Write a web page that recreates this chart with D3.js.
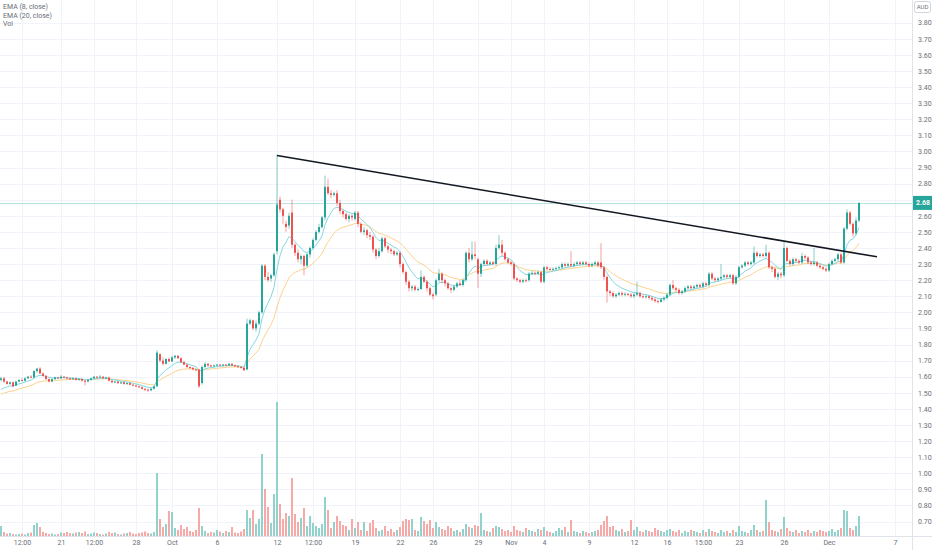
<!DOCTYPE html>
<html>
<head>
<meta charset="utf-8">
<script src="https://cdn.jsdelivr.net/npm/d3@7"></script>
<style>
	body { margin: 0; background: #fff; }
	svg { display: block; font-family: Roboto, "Noto Sans", sans-serif; }
</style>
</head>
<body>
<svg id="chart" width="932" height="550"></svg>
<script>
// candles, one per bar, left to right
var opens = [
	1.58,1.59,1.57,1.555,1.565,1.545,1.57,1.58,1.575,1.59,
	1.60,1.595,1.635,1.65,1.62,1.605,1.585,1.57,1.585,1.595,
	1.59,1.60,1.595,1.59,1.585,1.59,1.58,1.585,1.575,1.57,
	1.58,1.59,1.60,1.595,1.60,1.59,1.595,1.575,1.565,1.57,
	1.56,1.565,1.555,1.56,1.55,1.545,1.54,1.535,1.525,1.52,
	1.515,1.525,1.54,1.74,1.70,1.68,1.71,1.695,1.72,1.73,
	1.715,1.69,1.675,1.66,1.655,1.645,1.645,1.56,1.66,1.68,
	1.67,1.665,1.67,1.675,1.67,1.675,1.67,1.68,1.67,1.665,
	1.66,1.655,1.645,1.93,1.95,1.90,1.93,2.00,2.29,2.22,
	2.21,2.23,2.38,2.70,2.64,2.55,2.54,2.62,2.42,2.37,
	2.33,2.35,2.29,2.36,2.40,2.45,2.50,2.53,2.59,2.78,
	2.74,2.73,2.74,2.68,2.63,2.61,2.58,2.60,2.58,2.62,
	2.55,2.50,2.51,2.48,2.47,2.39,2.35,2.38,2.46,2.41,
	2.39,2.38,2.36,2.37,2.30,2.25,2.19,2.15,2.16,2.14,
	2.145,2.22,2.19,2.15,2.11,2.11,2.20,2.24,2.20,2.18,
	2.15,2.14,2.16,2.18,2.17,2.20,2.37,2.33,2.36,2.33,
	2.24,2.30,2.32,2.30,2.31,2.30,2.40,2.42,2.37,2.33,
	2.31,2.30,2.21,2.20,2.19,2.20,2.20,2.24,2.245,2.24,
	2.25,2.19,2.28,2.27,2.265,2.27,2.275,2.28,2.30,2.29,
	2.30,2.29,2.30,2.31,2.30,2.31,2.30,2.29,2.30,2.31,
	2.31,2.28,2.22,2.13,2.12,2.10,2.11,2.12,2.11,2.115,
	2.11,2.10,2.11,2.12,2.10,2.095,2.10,2.09,2.08,2.07,
	2.065,2.08,2.09,2.11,2.17,2.15,2.14,2.12,2.13,2.15,
	2.16,2.15,2.16,2.17,2.16,2.18,2.17,2.24,2.21,2.20,
	2.21,2.22,2.23,2.22,2.23,2.18,2.22,2.28,2.29,2.31,
	2.30,2.31,2.37,2.35,2.36,2.35,2.37,2.28,2.27,2.22,
	2.24,2.23,2.40,2.32,2.30,2.33,2.32,2.31,2.35,2.34,
	2.31,2.30,2.31,2.29,2.28,2.27,2.26,2.30,2.32,2.33,
	2.36,2.31,2.52,2.62,2.55,2.49,2.57
];
var highs = [
	1.60,1.60,1.575,1.57,1.57,1.575,1.585,1.59,1.595,1.605,
	1.61,1.64,1.655,1.66,1.625,1.61,1.59,1.59,1.60,1.60,
	1.61,1.605,1.60,1.595,1.595,1.595,1.59,1.59,1.58,1.585,
	1.595,1.605,1.605,1.61,1.605,1.60,1.60,1.58,1.575,1.575,
	1.57,1.57,1.565,1.565,1.555,1.55,1.545,1.54,1.53,1.525,
	1.53,1.545,1.765,1.745,1.72,1.715,1.72,1.73,1.735,1.735,
	1.72,1.70,1.68,1.665,1.66,1.65,1.65,1.67,1.69,1.685,
	1.675,1.675,1.68,1.68,1.68,1.68,1.685,1.685,1.675,1.67,
	1.665,1.66,1.96,1.96,1.955,1.95,2.01,2.30,2.30,2.25,
	2.24,2.37,2.98,2.72,2.65,2.57,2.62,2.70,2.43,2.39,
	2.36,2.36,2.37,2.41,2.46,2.51,2.55,2.60,2.85,2.83,
	2.76,2.75,2.76,2.70,2.64,2.62,2.61,2.61,2.63,2.63,
	2.56,2.53,2.52,2.50,2.48,2.40,2.40,2.47,2.47,2.42,
	2.40,2.39,2.38,2.38,2.31,2.26,2.20,2.17,2.17,2.155,
	2.26,2.23,2.20,2.16,2.12,2.21,2.27,2.25,2.21,2.19,
	2.16,2.17,2.19,2.20,2.21,2.38,2.40,2.44,2.44,2.34,
	2.31,2.33,2.33,2.32,2.32,2.42,2.48,2.45,2.38,2.34,
	2.32,2.31,2.22,2.21,2.21,2.21,2.25,2.26,2.255,2.26,
	2.26,2.29,2.29,2.28,2.28,2.285,2.29,2.31,2.31,2.31,
	2.38,2.31,2.32,2.32,2.32,2.32,2.31,2.31,2.32,2.32,
	2.43,2.29,2.23,2.14,2.13,2.12,2.13,2.13,2.125,2.12,
	2.12,2.12,2.19,2.13,2.11,2.11,2.105,2.10,2.09,2.08,
	2.09,2.10,2.12,2.18,2.20,2.16,2.15,2.14,2.16,2.17,
	2.17,2.17,2.18,2.18,2.19,2.19,2.25,2.25,2.22,2.22,
	2.30,2.24,2.24,2.24,2.24,2.23,2.29,2.30,2.32,2.32,
	2.32,2.41,2.38,2.37,2.37,2.42,2.38,2.29,2.28,2.25,
	2.25,2.44,2.41,2.33,2.34,2.34,2.33,2.37,2.36,2.35,
	2.32,2.40,2.32,2.30,2.29,2.28,2.31,2.33,2.34,2.37,
	2.37,2.53,2.64,2.63,2.56,2.59,2.685
];
var lows = [
	1.57,1.56,1.55,1.55,1.535,1.54,1.565,1.57,1.57,1.585,
	1.59,1.59,1.625,1.615,1.60,1.58,1.565,1.565,1.58,1.585,
	1.585,1.59,1.585,1.58,1.58,1.575,1.575,1.57,1.545,1.565,
	1.575,1.585,1.59,1.59,1.585,1.585,1.57,1.56,1.56,1.555,
	1.555,1.55,1.55,1.545,1.54,1.535,1.53,1.52,1.51,1.505,
	1.51,1.52,1.535,1.69,1.67,1.675,1.69,1.69,1.71,1.71,
	1.685,1.67,1.655,1.645,1.64,1.635,1.53,1.55,1.655,1.66,
	1.66,1.66,1.665,1.665,1.665,1.665,1.665,1.665,1.66,1.655,
	1.65,1.635,1.64,1.92,1.89,1.88,1.92,1.99,2.20,2.19,
	2.19,2.22,2.36,2.62,2.55,2.50,2.52,2.40,2.35,2.31,
	2.30,2.23,2.28,2.34,2.39,2.44,2.49,2.52,2.57,2.73,
	2.71,2.72,2.66,2.61,2.59,2.57,2.56,2.57,2.57,2.53,
	2.49,2.48,2.46,2.45,2.37,2.33,2.34,2.37,2.40,2.37,
	2.36,2.35,2.35,2.28,2.24,2.17,2.13,2.13,2.13,2.13,
	2.14,2.18,2.13,2.10,2.08,2.10,2.19,2.18,2.16,2.14,
	2.12,2.13,2.15,2.16,2.16,2.19,2.31,2.32,2.33,2.15,
	2.22,2.29,2.29,2.29,2.29,2.29,2.39,2.35,2.32,2.30,
	2.29,2.20,2.19,2.18,2.18,2.185,2.19,2.23,2.23,2.23,
	2.18,2.18,2.26,2.26,2.26,2.26,2.27,2.27,2.28,2.28,
	2.28,2.28,2.29,2.29,2.29,2.29,2.28,2.28,2.29,2.28,
	2.27,2.20,2.06,2.10,2.09,2.09,2.10,2.10,2.10,2.10,
	2.09,2.09,2.10,2.09,2.085,2.085,2.08,2.07,2.06,2.055,
	2.06,2.07,2.08,2.10,2.14,2.13,2.11,2.11,2.12,2.14,
	2.14,2.145,2.15,2.15,2.15,2.16,2.16,2.20,2.19,2.19,
	2.20,2.21,2.21,2.21,2.17,2.17,2.21,2.27,2.28,2.29,
	2.29,2.30,2.34,2.34,2.34,2.34,2.27,2.25,2.21,2.20,
	2.21,2.22,2.31,2.29,2.29,2.31,2.30,2.30,2.33,2.30,
	2.29,2.29,2.28,2.27,2.26,2.25,2.25,2.29,2.31,2.32,
	2.30,2.30,2.51,2.54,2.47,2.48,2.56
];
var closes = [
	1.59,1.57,1.555,1.565,1.54,1.57,1.58,1.575,1.59,1.60,
	1.595,1.635,1.65,1.62,1.605,1.585,1.57,1.585,1.595,1.59,
	1.60,1.595,1.59,1.585,1.59,1.58,1.585,1.575,1.57,1.58,
	1.59,1.60,1.595,1.60,1.59,1.595,1.575,1.565,1.57,1.56,
	1.565,1.555,1.56,1.55,1.545,1.54,1.535,1.525,1.52,1.515,
	1.525,1.54,1.75,1.70,1.68,1.71,1.695,1.72,1.73,1.715,
	1.69,1.675,1.66,1.655,1.645,1.64,1.54,1.66,1.68,1.67,
	1.665,1.67,1.675,1.67,1.675,1.67,1.68,1.67,1.665,1.66,
	1.655,1.64,1.93,1.95,1.90,1.93,2.00,2.29,2.22,2.20,
	2.23,2.36,2.67,2.64,2.60,2.53,2.60,2.42,2.37,2.33,
	2.35,2.29,2.36,2.40,2.45,2.50,2.53,2.59,2.78,2.74,
	2.73,2.74,2.68,2.63,2.61,2.58,2.60,2.59,2.62,2.55,
	2.50,2.51,2.48,2.47,2.39,2.35,2.38,2.46,2.41,2.39,
	2.38,2.36,2.37,2.30,2.25,2.19,2.15,2.16,2.14,2.145,
	2.22,2.19,2.15,2.11,2.10,2.20,2.24,2.20,2.18,2.15,
	2.14,2.16,2.18,2.17,2.20,2.37,2.33,2.36,2.35,2.24,
	2.30,2.32,2.30,2.31,2.30,2.40,2.42,2.37,2.33,2.31,
	2.30,2.21,2.20,2.19,2.20,2.195,2.24,2.245,2.24,2.25,
	2.19,2.28,2.27,2.265,2.27,2.275,2.28,2.30,2.29,2.30,
	2.29,2.30,2.31,2.30,2.31,2.30,2.29,2.30,2.31,2.29,
	2.28,2.22,2.13,2.12,2.10,2.11,2.12,2.11,2.115,2.11,
	2.10,2.11,2.12,2.10,2.095,2.10,2.09,2.08,2.07,2.065,
	2.08,2.09,2.11,2.17,2.15,2.14,2.12,2.13,2.15,2.16,
	2.15,2.16,2.17,2.16,2.18,2.17,2.24,2.21,2.20,2.21,
	2.22,2.23,2.22,2.23,2.18,2.22,2.28,2.29,2.31,2.30,
	2.31,2.37,2.35,2.36,2.35,2.37,2.28,2.27,2.22,2.24,
	2.23,2.40,2.32,2.30,2.33,2.32,2.31,2.35,2.34,2.31,
	2.30,2.31,2.29,2.28,2.27,2.26,2.30,2.32,2.33,2.36,
	2.31,2.52,2.62,2.55,2.49,2.57,2.68
];
// volume, thousands of shares
var volumes = [
	100,40,25,30,20,15,20,25,15,30,
	35,110,130,90,40,30,20,25,15,20,
	35,30,40,30,25,35,40,30,45,20,
	25,35,30,20,15,25,40,30,35,20,
	15,25,30,40,25,20,30,35,45,30,
	25,40,630,170,90,120,250,240,80,60,
	110,70,90,50,40,60,280,100,50,30,
	40,35,60,45,30,50,40,90,35,30,
	45,70,260,180,260,120,170,820,470,290,
	130,420,1340,320,170,230,200,580,220,140,
	180,280,100,200,130,100,80,120,390,260,
	80,140,200,150,110,100,60,170,80,140,
	60,140,50,130,160,80,50,60,100,50,
	70,40,60,90,150,170,160,170,60,50,
	190,150,120,160,80,140,90,70,60,100,
	80,50,60,40,70,120,90,80,110,100,
	230,60,50,40,80,100,90,70,50,60,
	40,100,60,50,40,80,60,50,40,70,
	60,90,50,40,30,50,80,60,90,40,
	160,50,40,30,50,40,30,40,50,60,
	110,150,200,90,100,60,50,70,40,50,
	160,60,90,50,40,60,50,40,80,60,
	50,40,60,70,50,40,60,30,50,40,
	60,50,40,30,60,40,70,50,40,30,
	60,40,50,30,60,40,100,50,40,30,
	60,110,60,40,50,360,140,60,50,40,
	70,190,80,50,40,60,30,50,40,60,
	30,50,40,60,50,40,50,70,40,60,
	80,260,250,80,60,100,200
];

var priceTicks = [0.70,0.80,0.90,1.00,1.10,1.20,1.30,1.40,1.50,1.60,1.70,1.80,1.90,2.00,2.10,2.20,
	2.30,2.40,2.50,2.60,2.70,2.80,2.90,3.00,3.10,3.20,3.30,3.40,3.50,3.60,3.70,3.80];
var timeTickIdx = [7,20,31,45,57,72,92,104,118,133,144,159,170,181,196,211,222,234,246,261,276,298];
var timeTickLabels = ["12:00","21","12:00","28","Oct","6","12","12:00","19","22","26",
	"29","Nov","4","9","12","16","15:00","23","26","Dec","7"];
var legendLabels = ["EMA (8, close)", "EMA (20, close)", "Vol"];

// EMA values at the left edge (history before the first bar)
var ema8Start = 1.52, ema20Start = 1.49;
// hand drawn trendline: bar index and price at both ends
var trendIdx = [92, 292], trendPrice = [2.975, 2.345];
var lastPrice = 2.68;

var plotRight = 912, plotBottom = 536;
var up = "#26a69a", down = "#ef5350";

var svg = d3.select("#chart");

var x = d3.scaleLinear().domain([0, 298]).range([1, 895]);
var y = d3.scaleLinear().domain([0.70, 3.80]).range([521.5, 22.7]);
var yVol = d3.scaleLinear().domain([0, 1400]).range([plotBottom, 396]);

var bars = closes.map((c, i) => ({i: i, o: opens[i], h: highs[i], l: lows[i], c: c, v: volumes[i]}));

function ema(values, n, start) {
	var k = 2 / (n + 1), out = [start];
	for (var i = 1; i < values.length; i++) out.push(values[i] * k + out[i - 1] * (1 - k));
	return out;
}

svg.append("rect").attr("width", 932).attr("height", 550).attr("fill", "#fff");

// grid
var grid = svg.append("g").attr("stroke", "#f0f3fa");
grid.selectAll(".h").data(priceTicks).join("line").attr("class", "h")
	.attr("x1", 0).attr("x2", plotRight)
	.attr("y1", d => Math.round(y(d)) + 0.5).attr("y2", d => Math.round(y(d)) + 0.5);
grid.selectAll(".v").data(timeTickIdx).join("line").attr("class", "v")
	.attr("x1", d => Math.round(x(d)) + 0.5).attr("x2", d => Math.round(x(d)) + 0.5)
	.attr("y1", 0).attr("y2", plotBottom);

// volume
svg.append("g")
	.selectAll("rect")
	.data(bars)
	.join("rect")
	.attr("x", d => x(d.i) - 1)
	.attr("width", 2)
	.attr("y", d => yVol(d.v))
	.attr("height", d => plotBottom - yVol(d.v))
	.attr("fill", d => d.c >= d.o ? "#92d2cc" : "#f7a9a7");

// last price line
svg.append("line")
	.attr("x1", 0).attr("x2", plotRight)
	.attr("y1", Math.round(y(lastPrice)) + 0.5).attr("y2", Math.round(y(lastPrice)) + 0.5)
	.attr("stroke", up).attr("stroke-opacity", 0.3);

// emas
var line = d3.line().x((d, i) => x(i)).y(d => y(d));
svg.append("path").datum(ema(closes, 20, ema20Start))
	.attr("d", line).attr("fill", "none").attr("stroke", "#fdd48e").attr("stroke-width", 1);
svg.append("path").datum(ema(closes, 8, ema8Start))
	.attr("d", line).attr("fill", "none").attr("stroke", "#86d8e3").attr("stroke-width", 1);

// candles
var cg = svg.append("g")
	.selectAll("g")
	.data(bars)
	.join("g")
	.attr("fill", d => d.c >= d.o ? up : down)
	.attr("stroke", d => d.c >= d.o ? up : down);
cg.append("line")
	.attr("x1", d => x(d.i)).attr("x2", d => x(d.i))
	.attr("y1", d => y(Math.max(d.h, d.o, d.c)))
	.attr("y2", d => y(Math.min(d.l, d.o, d.c)))
	.attr("stroke-width", 1)
	.attr("stroke-opacity", 0.55);
cg.append("rect")
	.attr("stroke", "none")
	.attr("x", d => x(d.i) - 1)
	.attr("width", 2)
	.attr("y", d => y(Math.max(d.o, d.c)))
	.attr("height", d => Math.max(1, Math.abs(y(d.o) - y(d.c))));

// trendline
svg.append("line")
	.attr("x1", x(trendIdx[0])).attr("y1", y(trendPrice[0]))
	.attr("x2", x(trendIdx[1])).attr("y2", y(trendPrice[1]))
	.attr("stroke", "#131722").attr("stroke-width", 1.6);

// price axis
svg.append("rect").attr("x", plotRight).attr("y", 0).attr("width", 932 - plotRight).attr("height", 550).attr("fill", "#fff");
svg.append("line").attr("x1", plotRight + 0.5).attr("x2", plotRight + 0.5).attr("y1", 0).attr("y2", 550)
	.attr("stroke", "#e0e3eb");

svg.append("g")
	.attr("transform", `translate(${plotRight + 3},0)`)
	.call(d3.axisRight(y).tickValues(priceTicks).tickFormat(d3.format(".2f")).tickSize(0))
	.call(g => g.select(".domain").remove())
	// the last price tag hides the label under it
	.call(g => g.selectAll(".tick").filter(d => Math.abs(y(d) - y(lastPrice)) < 9).remove())
	.call(g => g.selectAll("text")
		.attr("fill", "#6a6d78")
		.attr("font-size", "7px")
		.attr("font-family", "Roboto, 'Noto Sans', sans-serif"));

svg.append("rect").attr("x", 914.5).attr("y", 1.5).attr("width", 16).attr("height", 11).attr("rx", 2)
	.attr("fill", "#fff").attr("stroke", "#d1d4dc");
svg.append("text").attr("x", 922.5).attr("y", 7.3).attr("text-anchor", "middle").attr("dy", "0.35em")
	.attr("font-size", "6px").attr("fill", "#6a6d78").text("AUD");

// last price tag
svg.append("rect").attr("x", plotRight + 1).attr("y", y(lastPrice) - 7).attr("width", 932 - plotRight - 1).attr("height", 14)
	.attr("fill", up);
svg.append("text").attr("x", plotRight + 4).attr("y", y(lastPrice)).attr("dy", "0.35em")
	.attr("font-size", "7px").attr("font-weight", "bold").attr("fill", "#fff").text(lastPrice.toFixed(2));

// time axis
svg.append("line").attr("x1", 0).attr("x2", 932).attr("y1", plotBottom + 0.5).attr("y2", plotBottom + 0.5)
	.attr("stroke", "#e0e3eb");
svg.append("g")
	.attr("transform", `translate(0,${plotBottom + 1})`)
	.call(d3.axisBottom(x).tickValues(timeTickIdx).tickFormat((d, i) => timeTickLabels[i]).tickSize(0))
	.call(g => g.select(".domain").remove())
	.call(g => g.selectAll("text")
		.attr("fill", "#6a6d78")
		.attr("font-size", "7px")
		.attr("font-family", "Roboto, 'Noto Sans', sans-serif"));

// legend
svg.append("g")
	.selectAll("text")
	.data(legendLabels)
	.join("text")
	.attr("x", 3)
	.attr("y", (d, i) => 7 + i * 8.3)
	.attr("dy", "0.35em")
	.attr("font-size", "7px")
	.attr("fill", "#6a6d78")
	.text(d => d);
</script>
</body>
</html>
